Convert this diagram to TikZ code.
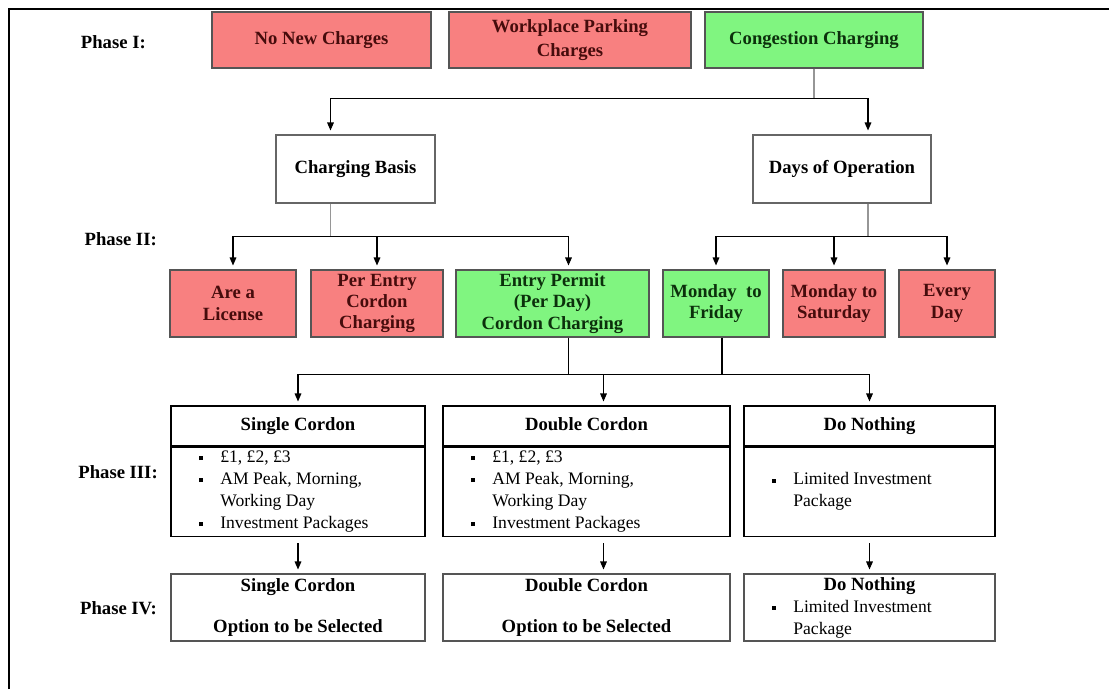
\documentclass[tikz,border=0pt]{standalone}
\usepackage{fontspec}
\setmainfont{Liberation Serif}
\usepackage{tikz}
\usetikzlibrary{arrows.meta,positioning,calc}
\definecolor{optred}{RGB}{248,128,128}
\definecolor{optgreen}{RGB}{128,245,128}
\definecolor{optredtext}{RGB}{70,12,12}
\definecolor{optgreentext}{RGB}{12,48,12}
\definecolor{boxedge}{RGB}{85,85,85}
\definecolor{linegray}{RGB}{150,150,150}
\newcommand{\sqbullet}{\rule[0.28ex]{3pt}{3pt}}
\newcommand{\listitem}[1]{\par\noindent\hspace*{18pt}\makebox[16pt][l]{\sqbullet}#1}
\newcommand{\listmore}[1]{\par\noindent\hspace*{34pt}#1}
\tikzset{
  stage label/.style={
    anchor=east,
    inner sep=0pt,
    font=\fontsize{14}{16}\selectfont\bfseries,
  },
  choice box/.style={
    draw=boxedge,
    line width=0.8pt,
    inner sep=2pt,
    align=center,
    font=\fontsize{14}{16}\selectfont\bfseries,
  },
  rejected/.style={choice box, fill=optred, text=optredtext},
  selected/.style={choice box, fill=optgreen, text=optgreentext},
  plain box/.style={choice box, fill=white, draw=gray!80!black},
  head box/.style={
    draw=black,
    line width=0.8pt,
    inner sep=0pt,
    minimum height=30pt,
    text height=10pt,
    text depth=3pt,
    align=center,
    font=\fontsize{14}{16}\selectfont\bfseries,
  },
  final box/.style={
    draw=boxedge,
    line width=0.8pt,
    inner sep=0pt,
    minimum height=50.25pt,
    align=center,
    font=\fontsize{14}{16}\selectfont\bfseries,
  },
  list box/.style={
    draw=black,
    line width=0.8pt,
    inner xsep=3pt,
    inner ysep=0pt,
    font=\fontsize{13.2}{16.5}\selectfont,
  },
  tree line/.style={line width=0.8pt, draw=black},
  tree arrow/.style={
    -{Triangle[length=6pt,width=5pt]},
    line width=0.8pt,
    draw=black,
    shorten >=3pt,
  },
}

\begin{document}
\begin{tikzpicture}[x=0.75pt,y=-0.75pt]
  \useasboundingbox (0,0) rectangle (1109,689);
  \draw[line width=1.5pt] (9,689) -- (9,9) -- (1109,9);

  % phase labels
  \node[stage label] (lbl1) at (146,42) {Phase I:};
  \node[stage label] (lbl2) at (157,239) {Phase II:};
  \node[stage label] (lbl3) at (158,472) {Phase III:};
  \node[stage label] (lbl4) at (157,608) {Phase IV:};

  % phase I
  \node[rejected, minimum width=164.25pt, minimum height=42pt] (nonew) at (321.5,40)
    {No New Charges};
  \node[rejected, minimum width=181.5pt, minimum height=42pt,
    font=\fontsize{14}{18}\selectfont\bfseries] (wpp) at (570,40)
    {Workplace Parking\\Charges};
  \node[selected, minimum width=163.5pt, minimum height=42pt] (cong) at (814,40)
    {Congestion Charging};

  % phase II
  \node[plain box, minimum width=119.25pt, minimum height=51pt] (basis) at (355.5,169)
    {Charging Basis};
  \node[plain box, minimum width=133.5pt, minimum height=51pt] (days) at (842,169)
    {Days of Operation};

  \node[rejected, minimum width=94.5pt, minimum height=50.25pt] (lic) at (233,303.5)
    {Are a\\License};
  \node[rejected, minimum width=99pt, minimum height=50.25pt] (perentry) at (377,303.5)
    {Per Entry\\Cordon\\Charging};
  \node[selected, minimum width=144.75pt, minimum height=50.25pt] (permit) at (552.5,303.5)
    {Entry Permit\\(Per Day)\\Cordon Charging};
  \node[selected, minimum width=79.5pt, minimum height=50.25pt] (monfri) at (716,303.5)
    {Monday\ \ to\\Friday};
  \node[rejected, minimum width=76.5pt, minimum height=50.25pt] (monsat) at (834,303.5)
    {Monday to\\Saturday};
  \node[rejected, minimum width=72pt, minimum height=50.25pt] (every) at (947,303.5)
    {Every\\Day};

  % phase III
  \node[head box, minimum width=190.5pt] (sgl) at (298,426) {Single Cordon};
  \node[list box, minimum width=190.5pt, minimum height=66.75pt, anchor=north] (sglbody) at (sgl.south)
    {\begin{minipage}{184.5pt}\listitem{£1, £2, £3}\listitem{AM Peak, Morning,}\listmore{Working Day}\listitem{Investment Packages}\end{minipage}};
  \node[head box, minimum width=215.25pt] (dbl) at (586.5,426) {Double Cordon};
  \node[list box, minimum width=215.25pt, minimum height=66.75pt, anchor=north] (dblbody) at (dbl.south)
    {\begin{minipage}{209.25pt}\listitem{£1, £2, £3}\listitem{AM Peak, Morning,}\listmore{Working Day}\listitem{Investment Packages}\end{minipage}};
  \node[head box, minimum width=188.25pt] (none) at (869.5,426) {Do Nothing};
  \node[list box, minimum width=188.25pt, minimum height=66.75pt, anchor=north] (nonebody) at (none.south)
    {\begin{minipage}{182.25pt}\listitem{Limited Investment}\listmore{Package}\end{minipage}};

  % phase IV
  \node[final box, minimum width=190.5pt] (sgl4) at (298,607.5)
    {Single Cordon\\[15pt]Option to be Selected};
  \node[final box, minimum width=215.25pt] (dbl4) at (586.5,607.5)
    {Double Cordon\\[15pt]Option to be Selected};
  \node[list box, draw=boxedge, minimum width=188.25pt, minimum height=50.25pt] (none4) at (869.5,607.5)
    {\begin{minipage}{182.25pt}{\centering\fontsize{14}{16.5}\selectfont\bfseries Do Nothing\par}\listitem{Limited Investment}\listmore{Package}\end{minipage}};

  % connectors
  \draw[tree line, draw=linegray] (cong.south) -- ++(0,30);
  \draw[tree arrow] ($(cong.south)+(0,30)$) -| ($(basis.north)+(-25,0)$);
  \draw[tree arrow] ($(cong.south)+(0,30)$) -| ($(days.north)+(26,0)$);

  \draw[tree line, draw=linegray] ($(basis.south)+(-25,0)$) -- ++(0,33);
  \draw[tree arrow] ($(basis.south)+(-25,33)$) -| (lic.north);
  \draw[tree arrow] ($(basis.south)+(-25,33)$) -| (perentry.north);
  \draw[tree arrow] ($(basis.south)+(-25,33)$) -| ($(permit.north)+(16,0)$);

  \draw[tree line, draw=linegray] ($(days.south)+(26,0)$) -- ++(0,33);
  \draw[tree arrow] ($(days.south)+(26,33)$) -| (monfri.north);
  \draw[tree arrow] ($(days.south)+(26,33)$) -| (monsat.north);
  \draw[tree arrow] ($(days.south)+(26,33)$) -| (every.north);

  \draw[tree line] ($(permit.south)+(16,0)$) -- ++(0,37);
  \draw[tree line] ($(monfri.south)+(6,0)$) -- ++(0,37);
  \draw[tree arrow] ($(permit.south)+(16,37)$) -| (sgl.north);
  \draw[tree arrow] ($(permit.south)+(16,37)$) -| ($(dbl.north)+(17,0)$);
  \draw[tree arrow] ($(permit.south)+(16,37)$) -| (none.north);

  \draw[tree arrow, shorten <=5pt] (sglbody.south) -- (sgl4.north);
  \draw[tree arrow, shorten <=5pt] ($(dblbody.south)+(17,0)$) -- ($(dbl4.north)+(17,0)$);
  \draw[tree arrow, shorten <=5pt] (nonebody.south) -- (none4.north);
\end{tikzpicture}
\end{document}
